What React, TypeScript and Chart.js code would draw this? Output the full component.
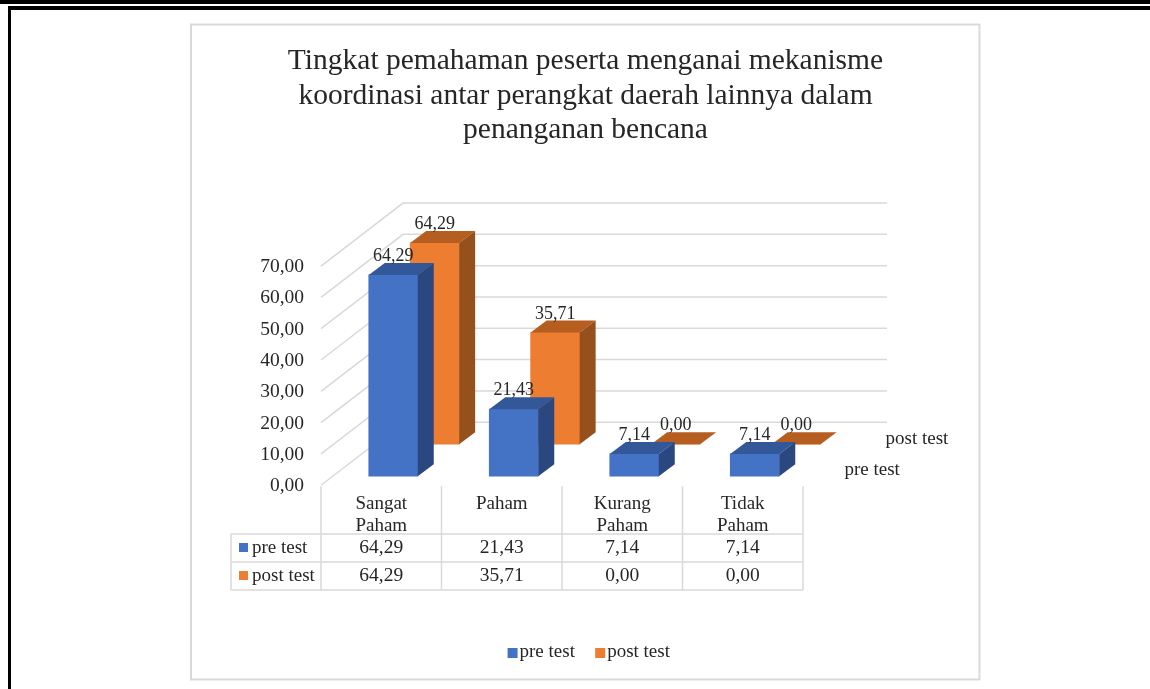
import React, { useEffect, useRef } from "react";
import { Chart, registerables } from "chart.js";

Chart.register(...registerables);

const titleLines = [
  "Tingkat pemahaman peserta menganai mekanisme",
  "koordinasi antar perangkat daerah lainnya dalam",
  "penanganan bencana",
];
const categories = [["Sangat", "Paham"], ["Paham"], ["Kurang", "Paham"], ["Tidak", "Paham"]];
const preTest = [64.29, 21.43, 7.14, 7.14];
const postTest = [64.29, 35.71, 0, 0];
const seriesNames = ["pre test", "post test"];

const FONT = '"Liberation Serif"';
const TEXT = "#262626";
const GRID = "#d9d9d9";
const FILLS = ["#4472c4", "#ed7d31"];
const TOPS = ["#335899", "#b65d20"];
const SIDES = ["#2a4780", "#95501c"];
const SHIFT = [
  { dx: 12, dy: -9 },
  { dx: 53.4, dy: -41 },
];
const WALL = { dx: 82, dy: -63, end: 887 };
const BAR_DEPTH = { dx: 16, dy: -12 };
const fmt = (v: number) => v.toFixed(2).replace(".", ",");

function legendSwatch(color: string) {
  const c = document.createElement("canvas");
  c.width = 24;
  c.height = 10;
  const g = c.getContext("2d")!;
  g.fillStyle = color;
  g.fillRect(11, 0, 10, 10);
  return c;
}

const scene3d = {
  id: "scene3d",
  afterLayout(chart: any) {
    chart.legend.left += 3;
    chart.legend.right += 3;
  },
  beforeDraw(chart: any) {
    const { ctx } = chart;
    ctx.save();
    ctx.fillStyle = "#fff";
    ctx.fillRect(0, 0, chart.width, chart.height);
    ctx.fillStyle = "#000";
    ctx.fillRect(0, 0, chart.width, 4);
    ctx.fillRect(8, 6, chart.width - 8, 4);
    ctx.fillRect(8, 6, 3, chart.height - 6);
    ctx.strokeStyle = GRID;
    ctx.lineWidth = 2;
    ctx.strokeRect(191, 24.5, 788.5, 655);
    ctx.restore();
  },
  beforeDatasetsDraw(chart: any) {
    const { ctx, scales } = chart;
    const y = scales.y;
    const left = chart.chartArea.left;
    ctx.save();
    ctx.strokeStyle = GRID;
    ctx.lineWidth = 1.5;
    y.ticks.forEach((t: any) => {
      const py = y.getPixelForValue(t.value);
      ctx.beginPath();
      ctx.moveTo(left, py);
      ctx.lineTo(left + WALL.dx, py + WALL.dy);
      ctx.lineTo(WALL.end, py + WALL.dy);
      ctx.stroke();
    });
    ctx.restore();
  },
  beforeDatasetDraw(chart: any, args: any) {
    const s = SHIFT[args.index];
    chart.ctx.save();
    chart.ctx.translate(s.dx, s.dy);
  },
  afterDatasetDraw(chart: any, args: any) {
    const { ctx } = chart;
    const i = args.index;
    args.meta.data.forEach((el: any) => {
      const { x, y, base, width } = el.getProps(["x", "y", "base", "width"], true);
      const l = x - width / 2;
      const r = x + width / 2;
      ctx.fillStyle = TOPS[i];
      ctx.beginPath();
      ctx.moveTo(l, y);
      ctx.lineTo(l + BAR_DEPTH.dx, y + BAR_DEPTH.dy);
      ctx.lineTo(r + BAR_DEPTH.dx, y + BAR_DEPTH.dy);
      ctx.lineTo(r, y);
      ctx.closePath();
      ctx.fill();
      if (base - y > 0.5) {
        ctx.fillStyle = SIDES[i];
        ctx.beginPath();
        ctx.moveTo(r, y);
        ctx.lineTo(r + BAR_DEPTH.dx, y + BAR_DEPTH.dy);
        ctx.lineTo(r + BAR_DEPTH.dx, base + BAR_DEPTH.dy);
        ctx.lineTo(r, base);
        ctx.closePath();
        ctx.fill();
      }
    });
    ctx.restore();
  },
  afterDatasetsDraw(chart: any) {
    const { ctx } = chart;
    ctx.save();
    ctx.font = `18px ${FONT}`;
    ctx.fillStyle = TEXT;
    ctx.textAlign = "center";
    ctx.textBaseline = "middle";
    [1, 0].forEach((i) => {
      const meta = chart.getDatasetMeta(i);
      meta.data.forEach((el: any, k: number) => {
        const v = chart.data.datasets[i].data[k] as number;
        ctx.fillText(fmt(v), el.x + SHIFT[i].dx, el.y + SHIFT[i].dy - 18.5);
      });
    });
    // depth axis labels
    ctx.font = `19px ${FONT}`;
    ctx.textAlign = "left";
    ctx.fillText(seriesNames[1], 885.5, 439);
    ctx.fillText(seriesNames[0], 844.5, 470);
    ctx.restore();
  },
  afterDraw(chart: any) {
    const { ctx, scales } = chart;
    const x = scales.x;
    const area = chart.chartArea;
    const cw = (area.right - area.left) / categories.length;
    const rowY = [534, 562, 590];
    const tableLeft = 231;
    ctx.save();
    ctx.strokeStyle = GRID;
    ctx.lineWidth = 1.5;
    ctx.beginPath();
    for (let i = 0; i <= categories.length; i++) {
      const px = area.left + i * cw;
      ctx.moveTo(px, area.bottom + 1);
      ctx.lineTo(px, rowY[2]);
    }
    ctx.moveTo(tableLeft, rowY[0]);
    ctx.lineTo(tableLeft, rowY[2]);
    rowY.forEach((ry) => {
      ctx.moveTo(tableLeft, ry);
      ctx.lineTo(area.right, ry);
    });
    ctx.stroke();
    ctx.textBaseline = "middle";
    [preTest, postTest].forEach((vals, r) => {
      const cy = (rowY[r] + rowY[r + 1]) / 2;
      ctx.fillStyle = FILLS[r];
      ctx.fillRect(239, cy - 5, 9, 9);
      ctx.fillStyle = TEXT;
      ctx.font = `19px ${FONT}`;
      ctx.textAlign = "left";
      ctx.fillText(seriesNames[r], 252, cy);
      ctx.font = `19.5px ${FONT}`;
      ctx.textAlign = "center";
      vals.forEach((v, k) => ctx.fillText(fmt(v), x.getPixelForTick(k), cy));
    });
    ctx.restore();
  },
};

export default function App() {
  const ref = useRef<HTMLCanvasElement>(null);
  useEffect(() => {
    const swatches = FILLS.map(legendSwatch);
    const chart = new Chart(ref.current!, {
      type: "bar",
      data: {
        labels: categories as any,
        datasets: [
          { label: seriesNames[0], data: preTest, backgroundColor: FILLS[0], clip: false as any },
          { label: seriesNames[1], data: postTest, backgroundColor: FILLS[1], clip: false as any },
        ],
      },
      plugins: [scene3d],
      options: {
        animation: false,
        responsive: false,
        devicePixelRatio: 1,
        layout: { padding: { left: 191, right: 170, top: 26, bottom: 17 } },
        datasets: { bar: { grouped: false, barThickness: 49 } },
        plugins: {
          title: {
            display: true,
            text: titleLines,
            color: TEXT,
            font: { family: FONT, size: 29.5, weight: "normal", lineHeight: 1.17 },
            padding: { top: 18, bottom: 118.5 },
          },
          legend: {
            position: "bottom",
            labels: {
              color: TEXT,
              font: { family: FONT, size: 19 },
              padding: 19.75,
              usePointStyle: true,
              pointStyleWidth: 3,
              generateLabels(c: any) {
                return Chart.defaults.plugins.legend.labels
                  .generateLabels(c)
                  .map((l: any, i: number) => ({ ...l, pointStyle: swatches[i] }));
              },
            },
          },
          tooltip: { enabled: false },
        },
        scales: {
          x: {
            grid: { display: false, drawTicks: false },
            border: { display: false },
            ticks: {
              color: TEXT,
              font: { family: FONT, size: 19, lineHeight: 1.2 },
              padding: 7,
              maxRotation: 0,
              autoSkip: false,
            },
            afterFit: (s: any) => {
              s.height = 138;
            },
          },
          y: {
            min: 0,
            max: 70,
            grid: { display: false, drawTicks: false },
            border: { display: false },
            ticks: {
              stepSize: 10,
              color: TEXT,
              font: { family: FONT, size: 19.5 },
              padding: 17,
              labelOffset: 1,
              callback: (v: any) => fmt(Number(v)),
            },
            afterFit: (s: any) => {
              s.width = 130;
            },
          },
          depthSpacer: {
            type: "linear",
            position: "right",
            grid: { display: false, drawTicks: false },
            border: { display: false },
            ticks: { display: false },
            afterFit: (s: any) => {
              s.width = 177;
            },
          },
        },
      } as any,
    });
    return () => chart.destroy();
  }, []);
  return (
    <canvas
      ref={ref}
      width={1150}
      height={689}
      style={{ position: "fixed", left: 0, top: 0, width: 1150, height: 689 }}
    />
  );
}
